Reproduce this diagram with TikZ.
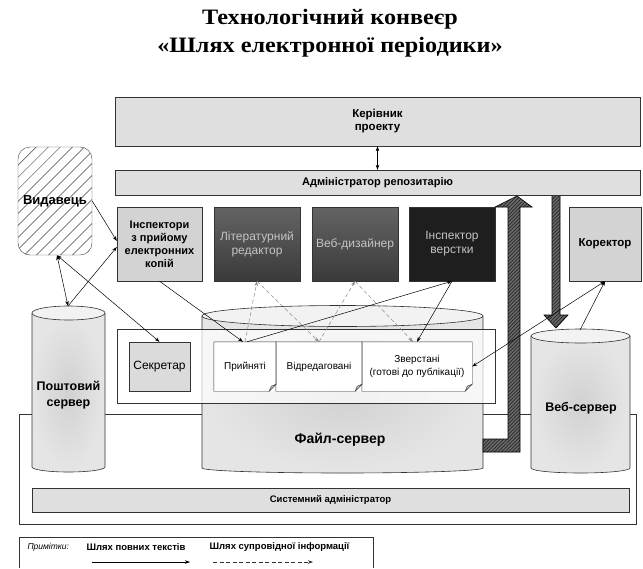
\documentclass[tikz,border=0pt]{standalone}
\usepackage{fontspec}
\setmainfont{Liberation Serif}
\setsansfont{Liberation Sans}
\usetikzlibrary{positioning, arrows.meta, patterns.meta}

\definecolor{panel}{HTML}{DFDFDF}
\definecolor{lightbox}{HTML}{D3D3D3}
\definecolor{darktop}{HTML}{646464}
\definecolor{darkbot}{HTML}{3A3A3A}
\definecolor{blackbox}{HTML}{1E1E1E}
\definecolor{paletext}{HTML}{C4C4C4}
\definecolor{linegray}{HTML}{333333}
\definecolor{hatchfill}{HTML}{6A6A6A}
\definecolor{infogray}{HTML}{8A8A8A}

\newcommand{\fsz}[2]{\fontsize{#1}{#2}\selectfont}

\begin{document}
\begin{tikzpicture}[
        x=1pt, y=-1pt,
        % Define styles for consistency
        >={Stealth[length=5pt, width=3.5pt]},
        panelbox/.style={draw=linegray, fill=panel, inner sep=0pt, align=center,
            font=\sffamily\bfseries\fsz{11.5}{13}},
        rolebox/.style={draw=linegray, minimum width=86pt, minimum height=74pt,
            inner sep=1pt, align=center, font=\sffamily\fsz{12}{14}},
        lightrole/.style={rolebox, fill=lightbox},
        darkrole/.style={rolebox, top color=darktop, bottom color=darkbot, text=paletext},
        docbox/.style={fill=white, minimum height=49pt, inner sep=0pt, align=center,
            font=\sffamily\fsz{10}{13}},
        pubbox/.style={draw=black!75, rounded corners=12pt, minimum width=74pt,
            minimum height=108pt, inner sep=0pt,
            pattern={Lines[angle=45, distance=8.5pt, line width=0.5pt]}, pattern color=black!75,
            font=\sffamily\bfseries\fsz{13}{15}},
        cyl/.style={draw=linegray, line width=0.6pt, inner color=gray!36, outer color=gray!20},
        cyltop/.style={draw=linegray, line width=0.6pt, fill=gray!10},
        srvlabel/.style={font=\sffamily\bfseries\fsz{12.5}{16}, align=center},
        bigarrow/.style={draw=black, line width=0.6pt, preaction={fill=hatchfill},
            pattern={Lines[angle=45, distance=2.5pt, line width=0.7pt]}, pattern color=black!85},
        full/.style={->, black, line width=0.5pt},
        fullboth/.style={<->, black, line width=0.5pt},
        info/.style={->, infogray, dash pattern=on 4pt off 2.5pt, line width=0.5pt},
        legendtext/.style={font=\sffamily\bfseries\fsz{9.5}{11}}
    ]
        \useasboundingbox (0,0) rectangle (643,568);

        % --- Title ---
        \node[font=\rmfamily\bfseries\fsz{22}{28}, align=center] (title) at (330,33)
            {\scalebox{1.1}[1]{Технологічний конвеєр}\\\scalebox{1.1}[1]{«Шлях електронної періодики»}};

        % --- System frame ---
        \draw[linegray, fill=white] (19,414) rectangle (636,524);
        \node[panelbox, minimum width=597pt, minimum height=24pt,
            font=\sffamily\bfseries\fsz{9.5}{11}] (sysadmin) at (330.5,500) {Системний адміністратор};

        % --- Servers ---
        % Mail server
        \draw[cyl] (32,313) -- (32,467) arc (180:0:36.5 and 5) -- (105,313);
        \draw[cyltop] (68.5,313) ellipse (36.5 and 7);
        % File server
        \draw[cyl] (202,316) -- (202,468) arc (180:0:140.5 and 5) -- (483,316);
        \draw[cyltop] (342.5,316) ellipse (140.5 and 10.5);
        % Web server
        \draw[cyl] (531,336) -- (531,468) arc (180:0:49.5 and 5) -- (630,336);
        \draw[cyltop] (580.5,336) ellipse (49.5 and 7);

        \node[srvlabel] (mailsrv) at (68.5,395) {Поштовий\\сервер};
        \node[srvlabel, font=\sffamily\bfseries\fsz{14}{16}] (filesrv) at (340,440) {Файл-сервер};
        \node[srvlabel] (websrv) at (581,408) {Веб-сервер};
        \coordinate (mailtop) at (68,306);
        \coordinate (webtop) at (580,330);

        % --- Repository ---
        \node[draw=linegray, fill=white, fill opacity=0.7, minimum width=378pt,
            minimum height=74pt] (store) at (306,366) {};
        \node[lightrole, fill=gray!28, minimum width=61pt, minimum height=49pt] (secretary)
            at (159.5,366.5) {Секретар};
        \node[docbox, minimum width=62pt] (accepted) at (245,366.5) {Прийняті};
        \node[docbox, minimum width=86pt] (edited) at (319,366.5) {Відредаговані};
        \node[docbox, minimum width=110pt] (typeset) at (417,366.5) {Зверстані\\(готові до публікації)};
        \foreach \d in {accepted, edited, typeset} {
            \draw[linegray] (\d.north west) -- (\d.north east) -- ([yshift=7pt]\d.south east)
                -- ([xshift=-7pt]\d.south east) -- (\d.south west) -- cycle;
            \filldraw[linegray, fill=gray!45] ([yshift=7pt]\d.south east) -- ([xshift=-7pt]\d.south east)
                -- ([xshift=-5pt, yshift=5pt]\d.south east) -- cycle;
        }

        % --- Transfer arrows ---
        \draw[bigarrow] (483,439) -- (508,439) -- (508,207) -- (495,207) -- (517,196)
            -- (532,207) -- (520,207) -- (520,452) -- (483,452) -- cycle;
        \draw[bigarrow] (552,195) -- (552,315) -- (544,315) -- (556,328) -- (568,315)
            -- (560,315) -- (560,195) -- cycle;

        % --- Management ---
        \node[panelbox, minimum width=525pt, minimum height=49pt] (boss) at (377.5,121.5)
            {Керівник\\проекту};
        \node[panelbox, minimum width=525pt, minimum height=25pt,
            font=\sffamily\bfseries\fsz{11}{13}] (repo) at (377.5,182.5) {Адміністратор репозитарію};

        % --- Roles ---
        \node[lightrole, minimum width=85pt, font=\sffamily\bfseries\fsz{11}{13}] (intake)
            at (159.5,244) {Інспектори\\з прийому\\електронних\\копій};
        \node[darkrole] (editor) at (257,244) {Літературний\\редактор};
        \node[darkrole] (designer) at (355,244) {Веб-дизайнер};
        \node[rolebox, fill=blackbox, text=paletext] (layout) at (452,244) {Інспектор\\верстки};
        \node[lightrole, minimum width=72pt, font=\sffamily\bfseries\fsz{11.5}{13}] (proof)
            at (605,244) {Коректор};
        \node[pubbox] (pub) at (55,201) {Видавець};

        % --- Full text path ---
        \draw[fullboth] (boss.south) -- (repo.north);
        \draw[full] (pub.east) -- ([yshift=3pt]intake.west);
        \draw[full] (mailtop) -- ([yshift=-3pt]intake.west);
        \draw[fullboth] ([xshift=2pt]pub.south) -- (mailtop);
        \draw[fullboth] ([xshift=2pt]pub.south) -- (secretary.north);
        \draw[full] (intake.south) -- ([xshift=-2pt]accepted.north);
        \draw[full] ([xshift=2pt]accepted.north) -- (layout.south);
        \draw[full] (layout.south) -- (typeset.north);
        \draw[fullboth] (typeset.east) -- (proof.south);
        \draw[full] (webtop) -- (proof.south);

        % --- Accompanying info path ---
        \draw[info] (accepted.north) -- (editor.south);
        \draw[info] (editor.south) -- (edited.north);
        \draw[info] (edited.north) -- (designer.south);
        \draw[info] (designer.south) -- ([xshift=-4pt]typeset.north);

        % --- Legend ---
        \draw[linegray] (19,568) -- (19,537) -- (373,537) -- (373,568);
        \node[font=\sffamily\itshape\fsz{8.5}{10}, anchor=west] (notes) at (24,547) {Примітки:};
        \node[legendtext] (fulltext) at (136,547) {Шлях повних текстів};
        \node[legendtext] (infotext) at (279.5,547) {Шлях супровідної інформації};
        \coordinate (fullstart) at (92,562);
        \coordinate (fullend) at (190,562);
        \coordinate (infostart) at (213,562);
        \coordinate (infoend) at (313,562);
        \draw[full] (fullstart) -- (fullend);
        \draw[info, black!80] (infostart) -- (infoend);

    \end{tikzpicture}
\end{document}
